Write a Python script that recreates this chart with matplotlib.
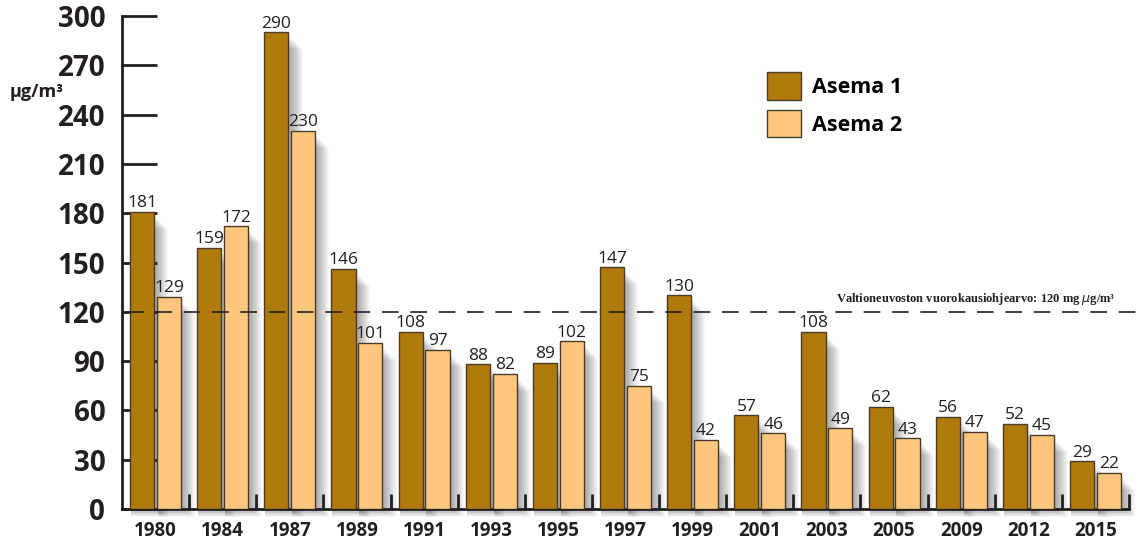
import numpy as np
import matplotlib.pyplot as plt
from matplotlib.patches import Rectangle

years = ['1980', '1984', '1987', '1989', '1991', '1993', '1995', '1997',
         '1999', '2001', '2003', '2005', '2009', '2012', '2015']
asema1 = [181, 159, 290, 146, 108, 88, 89, 147, 130, 57, 108, 62, 56, 52, 29]
asema2 = [129, 172, 230, 101, 97, 82, 102, 75, 42, 46, 49, 43, 47, 45, 22]
yticks = [0, 30, 60, 90, 120, 150, 180, 210, 240, 270, 300]
limit_value = 120
limit_text = 'Valtioneuvoston vuorokausiohjearvo: 120 mg $\\mu$g/m³'

c_dark = '#AF7A0B'
c_light = '#FEC77D'
edge = '#4a3a28'

plt.rcParams['font.family'] = ['Open Sans', 'DejaVu Sans']

fig = plt.figure(figsize=(11.36, 5.43), dpi=100)
ax = fig.add_axes([122 / 1136, 1 - 509 / 543, (1129 - 122) / 1136, (509 - 16) / 543])

n = len(years)
x = np.arange(n)
w = 0.36
px = 1 / 67.0      # one pixel in x data units
py = 300 / 493.0   # one pixel in y data units

# soft drop shadows behind the bars
for i in range(n):
    for left, h in ((x[i] + 0.12, asema1[i]), (x[i] + 0.52, asema2[i])):
        for k in range(1, 14):
            ax.add_patch(Rectangle((left + 1 * px, -k * 0.6 * py), w + k * px,
                                   h - 4 * py - k * 0.4 * py,
                                   facecolor='#000000', alpha=0.028, lw=0, zorder=1,
                                   clip_on=False))

b1 = ax.bar(x + 0.12, asema1, width=w, align='edge', color=c_dark,
            edgecolor=edge, linewidth=1.0, zorder=3, label='Asema 1')
b2 = ax.bar(x + 0.52, asema2, width=w, align='edge', color=c_light,
            edgecolor=edge, linewidth=1.0, zorder=3, label='Asema 2')

for bars, vals in ((b1, asema1), (b2, asema2)):
    for r, v in zip(bars, vals):
        ax.text(r.get_x() + r.get_width() / 2, v + 0.5, str(v), ha='center',
                va='bottom', fontsize=12.5, color='#231f20', zorder=5)

# guideline value
ax.plot([0.07, n + 0.1], [limit_value, limit_value], color='#231f20', lw=1.2,
        dashes=(10, 7), zorder=6, clip_on=False)
ax.text(n - 0.2, limit_value + 3, limit_text, ha='right', va='bottom',
        fontsize=9, fontweight='bold', family=['Liberation Serif', 'DejaVu Serif'],
        color='#231f20')

ax.set_xlim(0, n)
ax.set_ylim(0, 300)

for s in ('top', 'right'):
    ax.spines[s].set_visible(False)
for s in ('left', 'bottom'):
    ax.spines[s].set_linewidth(2)
    ax.spines[s].set_color('#231f20')

ax.set_yticks(yticks)
ax.set_yticklabels([str(v) for v in yticks], fontsize=20, fontweight='bold', color='#231f20')
ax.tick_params(axis='y', direction='in', length=25, width=2, color='#231f20', pad=12)

ax.set_xticks(x + 0.5)
ax.set_xticklabels(years, fontsize=13.5, fontweight='bold', color='#231f20')
ax.tick_params(axis='x', which='major', length=0, pad=9)
ax.set_xticks(np.arange(1, n + 1), minor=True)
ax.tick_params(axis='x', which='minor', direction='in', length=11, width=2, color='#231f20')

fig.text(10 / 1136, 1 - 92 / 543, 'µg/m³', fontsize=13, fontweight='bold',
         color='#231f20', va='center', ha='left')

leg = ax.legend(handles=[b1, b2], loc='upper left', bbox_to_anchor=(0.621, 0.925),
                frameon=False, handlelength=1.6, handleheight=1.6,
                handletextpad=0.5, labelspacing=0.45, prop={'weight': 'bold', 'size': 15.5})

fig.savefig('out.png', dpi=100)
